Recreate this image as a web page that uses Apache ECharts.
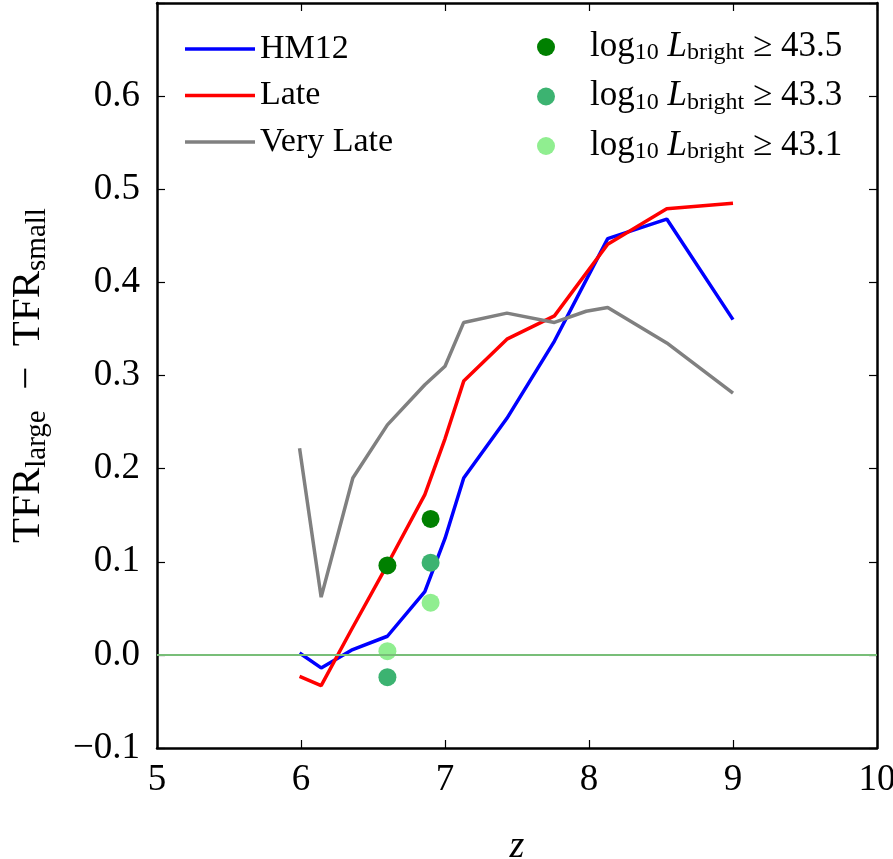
<!DOCTYPE html>
<html>
<head>
<meta charset="utf-8">
<title>TFR difference vs redshift</title>
<script src="https://cdn.jsdelivr.net/npm/echarts@6/dist/echarts.min.js"></script>
<style>
  html, body { margin: 0; padding: 0; background: #fff; }
  #chart { width: 893px; height: 859px; }
</style>
</head>
<body>
<div id="chart"></div>
<script>
// Model curves: redshift z and TFR_large - TFR_small
const zHM12 = [5.99, 6.14, 6.35, 6.6, 6.86, 7.0, 7.13, 7.43, 7.76, 8.13, 8.54, 9.0];
const tfrHM12 = [0.002, -0.014, 0.005, 0.020, 0.068, 0.125, 0.190, 0.254, 0.337, 0.447, 0.468, 0.360];

const zLate = [5.99, 6.14, 6.35, 6.6, 6.86, 7.0, 7.13, 7.43, 7.76, 8.13, 8.54, 9.0];
const tfrLate = [-0.023, -0.033, 0.027, 0.097, 0.172, 0.232, 0.294, 0.339, 0.364, 0.441, 0.479, 0.485];

const zVeryLate = [5.99, 6.14, 6.36, 6.6, 6.86, 7.0, 7.13, 7.43, 7.76, 7.98, 8.13, 8.54, 9.0];
const tfrVeryLate = [0.222, 0.062, 0.190, 0.247, 0.290, 0.310, 0.357, 0.367, 0.357, 0.369, 0.373, 0.335, 0.281];

// Observed points for three luminosity thresholds
const zObs = [6.6, 6.9];
const tfrBright435 = [0.096, 0.146];
const tfrBright433 = [-0.024, 0.099];
const tfrBright431 = [0.004, 0.056];

const thresholds = ['43.5', '43.3', '43.1'];

const FONT = '"Liberation Serif", "DejaVu Serif", serif';
const LINE_ICON = 'path://M0,0H70V3.5H0Z';

const pairs = (xs, ys) => xs.map((x, i) => [x, ys[i]]);

const chart = echarts.init(document.getElementById('chart'), null, { renderer: 'canvas' });

const lineSeries = (name, xs, ys, color) => ({
  name: name,
  type: 'line',
  data: pairs(xs, ys),
  symbol: 'none',
  showSymbol: false,
  lineStyle: { color: color, width: 3.5 },
  itemStyle: { color: color },
  z: 3,
  silent: true
});

const dotSeries = (name, ys, color) => ({
  name: name,
  type: 'scatter',
  data: pairs(zObs, ys),
  symbol: 'circle',
  symbolSize: 18,
  itemStyle: { color: color, opacity: 1 },
  z: 4,
  silent: true
});

const brightNames = thresholds.map(t => 'bright' + t);

const axisLineStyle = { show: true, onZero: false, lineStyle: { color: '#000', width: 2.5 } };
const axisTickStyle = { show: true, inside: true, length: 8, lineStyle: { color: '#000', width: 1.2 } };

const option = {
  animation: false,
  backgroundColor: '#fff',
  textStyle: { fontFamily: FONT, color: '#000' },
  grid: {
    left: 157, right: 16, top: 3, bottom: 111,
    containLabel: false,
    outerBoundsMode: 'none'
  },
  legend: [
    {
      data: ['HM12', 'Late', 'Very Late'].map(n => ({ name: n, icon: LINE_ICON })),
      orient: 'vertical',
      left: 185,
      top: 32,
      padding: 0,
      itemWidth: 70,
      itemHeight: 18,
      itemGap: 12.5,
      selectedMode: false,
      textStyle: { fontFamily: FONT, fontSize: 34, color: '#000', lineHeight: 34 }
    },
    {
      data: brightNames,
      orient: 'vertical',
      left: 537,
      top: 27,
      padding: 0,
      itemWidth: 78,
      itemHeight: 18,
      itemGap: 11.5,
      selectedMode: false,
      formatter: function (name) {
        const t = name.replace('bright', '');
        return '{m|log}{s|10}{i| L}{s|bright}{m| \u2265 ' + t + '}';
      },
      textStyle: {
        fontFamily: FONT,
        color: '#000',
        rich: {
          m: { fontFamily: FONT, fontSize: 35, lineHeight: 36, verticalAlign: 'top', color: '#000' },
          i: { fontFamily: FONT, fontSize: 35, fontStyle: 'italic', lineHeight: 36, verticalAlign: 'top', color: '#000' },
          s: { fontFamily: FONT, fontSize: 24, lineHeight: 26, padding: [14, 0, 0, 0], verticalAlign: 'bottom', color: '#000' }
        }
      }
    }
  ],
  xAxis: [
    {
      type: 'value',
      min: 5, max: 10, interval: 1,
      position: 'bottom',
      name: 'z',
      nameLocation: 'middle',
      nameGap: 80,
      nameTextStyle: { fontFamily: FONT, fontSize: 38, fontStyle: 'italic', color: '#000' },
      axisLine: axisLineStyle,
      axisTick: axisTickStyle,
      axisLabel: { fontFamily: FONT, fontSize: 37, color: '#000', margin: 14 },
      splitLine: { show: false }
    },
    {
      type: 'value',
      min: 5, max: 10, interval: 1,
      position: 'top',
      axisLine: axisLineStyle,
      axisTick: axisTickStyle,
      axisLabel: { show: false },
      splitLine: { show: false }
    }
  ],
  yAxis: [
    {
      type: 'value',
      min: -0.1, max: 0.7, interval: 0.1,
      position: 'left',
      name: '{m|TFR}{s|large}{m|  \u2212  TFR}{s|small}',
      nameLocation: 'middle',
      nameRotate: 90,
      nameGap: 105,
      nameTextStyle: {
        rich: {
          m: { fontFamily: FONT, fontSize: 41, lineHeight: 44, verticalAlign: 'top', color: '#000' },
          s: { fontFamily: FONT, fontSize: 29, lineHeight: 30, padding: [16, 0, 0, 0], verticalAlign: 'bottom', color: '#000' }
        }
      },
      axisLine: axisLineStyle,
      axisTick: axisTickStyle,
      axisLabel: {
        fontFamily: FONT, fontSize: 37, color: '#000', margin: 17,
        formatter: function (v) {
          if (Math.abs(v - 0.7) < 1e-9) return '';
          const s = Math.abs(v).toFixed(1);
          return (v < -1e-9 ? '\u2212' : '') + s;
        }
      },
      splitLine: { show: false }
    },
    {
      type: 'value',
      min: -0.1, max: 0.7, interval: 0.1,
      position: 'right',
      axisLine: axisLineStyle,
      axisTick: axisTickStyle,
      axisLabel: { show: false },
      splitLine: { show: false }
    }
  ],
  series: [
    {
      name: 'zero',
      type: 'line',
      data: [],
      silent: true,
      z: 1,
      markLine: {
        silent: true,
        symbol: ['none', 'none'],
        label: { show: false },
        lineStyle: { color: '#78be78', width: 2, type: 'solid' },
        data: [{ yAxis: 0 }]
      }
    },
    lineSeries('HM12', zHM12, tfrHM12, '#0000ff'),
    lineSeries('Late', zLate, tfrLate, '#ff0000'),
    lineSeries('Very Late', zVeryLate, tfrVeryLate, '#808080'),
    dotSeries(brightNames[0], tfrBright435, '#008000'),
    dotSeries(brightNames[1], tfrBright433, '#3cb371'),
    dotSeries(brightNames[2], tfrBright431, '#90ee90')
  ]
};

chart.setOption(option);
</script>
</body>
</html>
